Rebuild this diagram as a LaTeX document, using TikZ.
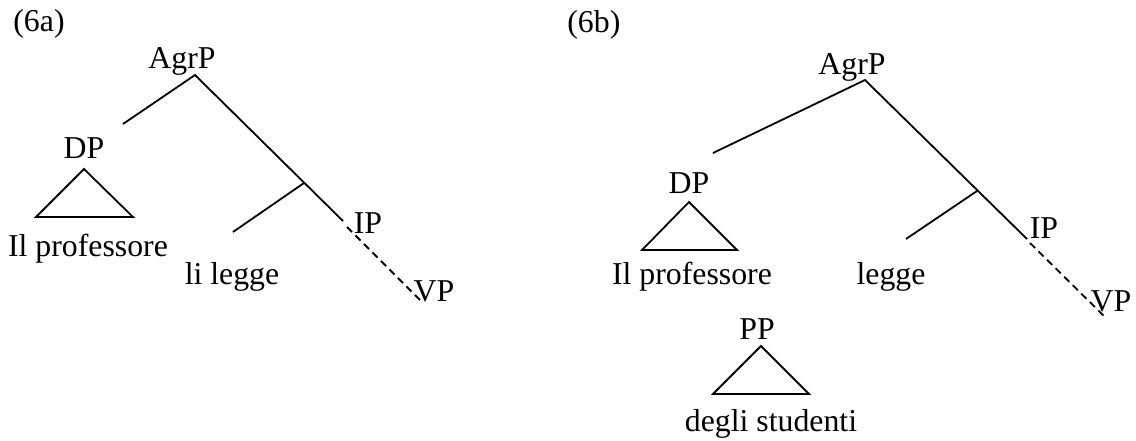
\documentclass[tikz,border=0pt]{standalone}
\usepackage{fontspec}
\setmainfont{Liberation Serif}
\begin{document}
\begin{tikzpicture}[x=0.5pt,y=-0.5pt,
  lbl/.style={anchor=base,inner sep=0pt,font=\fontsize{15.9}{19}\selectfont},
  edge/.style={line width=0.9pt,line cap=butt},
  dashedge/.style={line width=0.9pt,dash pattern=on 3.6pt off 2.4pt},
  tri/.style={line width=0.9pt,line join=miter}]
\useasboundingbox (0,0) rectangle (1136,440);
% ---------- (6a) ----------
\node[lbl,anchor=base west] (la) at (13,31) {(6a)};
\node[lbl] (agrA) at (182,68) {AgrP};
\node[lbl] (dpA) at (84,158) {DP};
\node[lbl] (profA) at (88,256) {Il professore};
\node[lbl] (leggeA) at (232,284) {li legge};
\node[lbl] (ipA) at (368,233) {IP};
\node[lbl] (vpA) at (434,301) {VP};
\coordinate (apA) at (195,75);
\coordinate (lA) at (123,124);
\coordinate (jA) at (304,183);
\coordinate (rA) at (343,221);
\coordinate (bA) at (233,232);
\coordinate (dsA) at (347,227);
\coordinate (deA) at (420,300);
\coordinate (t1A) at (84,169);
\coordinate (t2A) at (36,217);
\coordinate (t3A) at (133,217);
\draw[edge] (lA) -- (apA) -- (rA);
\draw[edge] (jA) -- (bA);
\draw[dashedge] (dsA) -- (deA);
\draw[tri] (t1A) -- (t2A) -- (t3A) -- cycle;
% ---------- (6b) ----------
\node[lbl,anchor=base west] (lb) at (567,32) {(6b)};
\node[lbl] (agrB) at (852,74) {AgrP};
\node[lbl] (dpB) at (689,193) {DP};
\node[lbl] (profB) at (692,284) {Il professore};
\node[lbl] (leggeB) at (891,284) {legge};
\node[lbl] (ipB) at (1044,238) {IP};
\node[lbl] (vpB) at (1111,311) {VP};
\node[lbl] (ppB) at (757,339) {PP};
\node[lbl] (studB) at (771,431) {degli studenti};
\coordinate (apB) at (865,80);
\coordinate (lB) at (713,153);
\coordinate (jB) at (977,191);
\coordinate (rB) at (1027,239);
\coordinate (bB) at (906,239);
\coordinate (dsB) at (1030,243);
\coordinate (deB) at (1105,317);
\coordinate (t1B) at (689,202);
\coordinate (t2B) at (642,250);
\coordinate (t3B) at (737,250);
\coordinate (p1B) at (761,346);
\coordinate (p2B) at (713,394);
\coordinate (p3B) at (809,394);
\draw[edge] (lB) -- (apB) -- (rB);
\draw[edge] (jB) -- (bB);
\draw[dashedge] (dsB) -- (deB);
\draw[tri] (t1B) -- (t2B) -- (t3B) -- cycle;
\draw[tri] (p1B) -- (p2B) -- (p3B) -- cycle;
\end{tikzpicture}
\end{document}
